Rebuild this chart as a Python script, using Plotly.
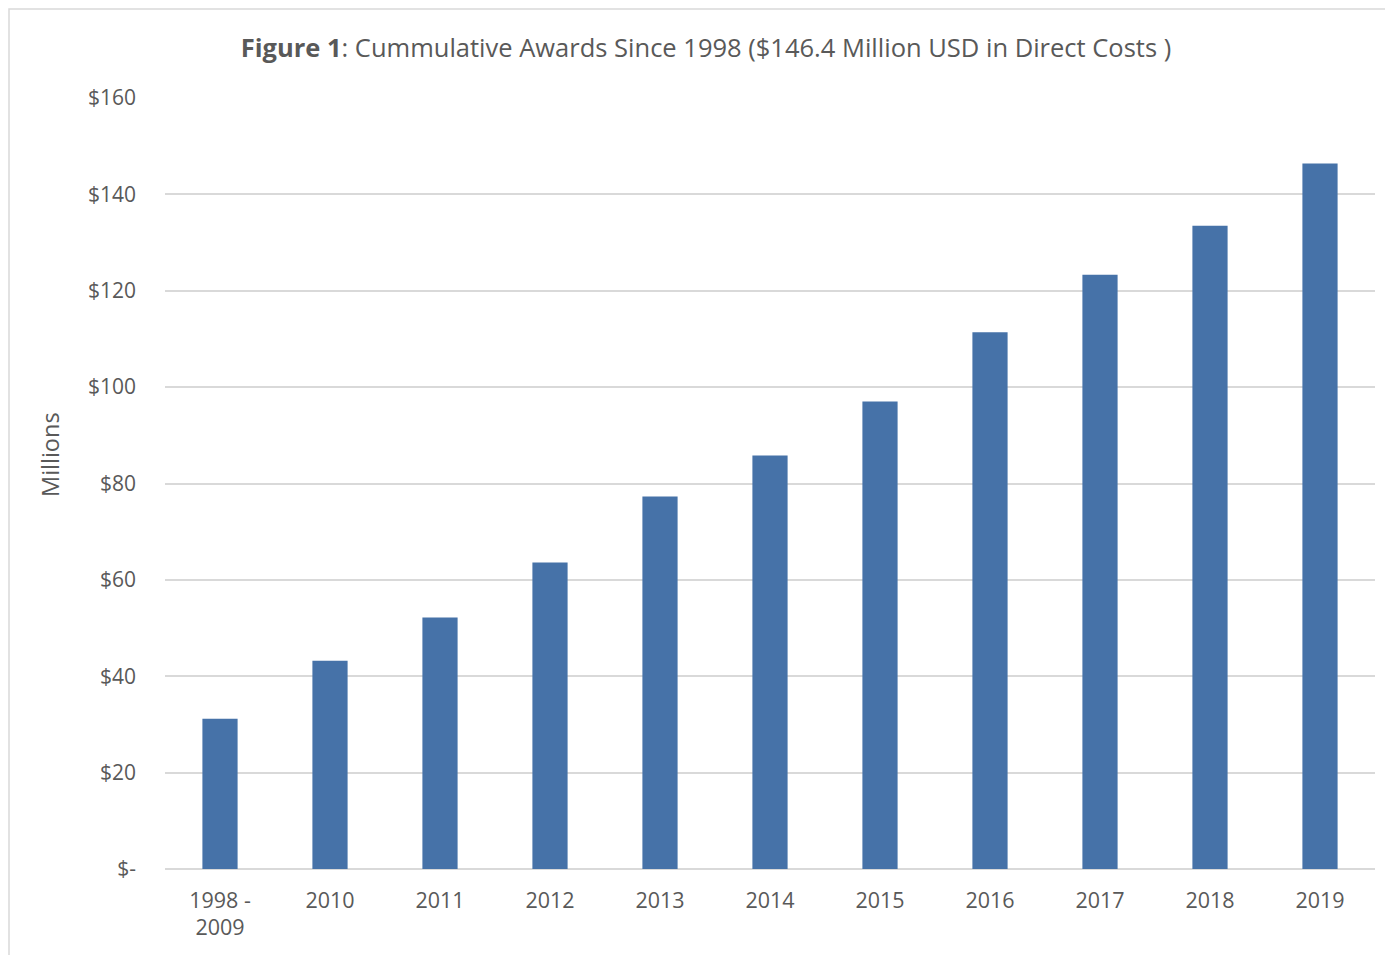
import plotly.graph_objects as go

categories = ["1998 -<br>2009", "2010", "2011", "2012", "2013", "2014", "2015", "2016", "2017", "2018", "2019"]
awards_millions = [31.2, 43.2, 52.2, 63.6, 77.3, 85.8, 97.0, 111.4, 123.3, 133.5, 146.4]
tick_values = [0, 20, 40, 60, 80, 100, 120, 140, 160]
tick_labels = ["$-", "$20", "$40", "$60", "$80", "$100", "$120", "$140", "$160"]

OFF = 8  # page body margin
W, H = 1393 - OFF, 955 - OFF
# plot area in screenshot coordinates: x 165..1375, y 98..869
L, T = 165 - OFF, 98 - OFF
R = W - (1375 - OFF)
B = H - (869 - OFF)
pw, ph = W - L - R, H - T - B

def px_x(x):
    return (x - OFF - L) / pw

def px_y(y):
    return (H - B - (y - OFF)) / ph

fig = go.Figure(go.Bar(
    x=categories, y=awards_millions,
    marker=dict(color="#4672a8", line=dict(width=0)),
))

fig.update_layout(
    width=W, height=H,
    margin=dict(l=L, r=R, t=T, b=B),
    paper_bgcolor="white", plot_bgcolor="white",
    bargap=0.68,
    showlegend=False,
    font=dict(family="Open Sans, sans-serif", color="#595959", size=21),
    title=dict(
        text="<b>Figure 1</b>: Cummulative Awards Since 1998 ($146.4 Million USD in Direct Costs )",
        x=(706 - OFF) / W, xanchor="center", y=1 - (48 - OFF) / H, yanchor="middle",
        font=dict(size=25.5, color="#595959"),
    ),
    xaxis=dict(showgrid=False, showline=False, ticks="", tickfont=dict(size=21.5),
               ticklabelstandoff=16),
    yaxis=dict(range=[0, 160], tickvals=tick_values, ticktext=tick_labels,
               showgrid=True, gridcolor="#d9d9d9", gridwidth=1.5,
               zeroline=True, zerolinecolor="#d9d9d9", zerolinewidth=1.5,
               showline=False, ticks="", tickfont=dict(size=21),
               ticklabelstandoff=28),
    annotations=[dict(text="Millions", textangle=-90, showarrow=False,
                      xref="paper", yref="paper", x=px_x(50), y=px_y(455),
                      xanchor="center", yanchor="middle",
                      font=dict(size=23.5, color="#595959"))],
    shapes=[dict(type="rect", xref="paper", yref="paper",
                 x0=px_x(9), x1=px_x(1393 + 5), y0=px_y(955 + 5), y1=px_y(9),
                 line=dict(color="#d9d9d9", width=1.5), fillcolor="rgba(0,0,0,0)", layer="below")],
)

fig.write_html("out.html")
